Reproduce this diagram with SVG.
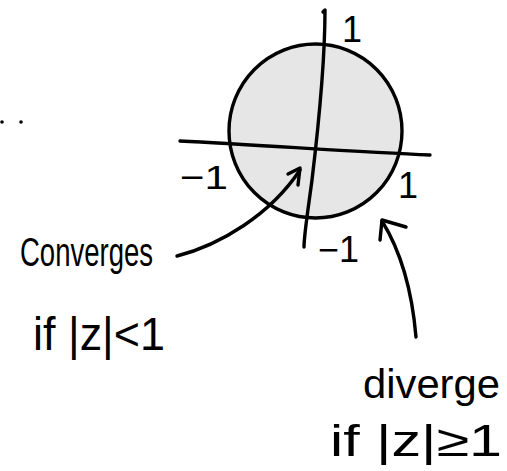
<svg xmlns="http://www.w3.org/2000/svg" width="507" height="471" viewBox="0 0 507 471">
<style>
.ink{fill:none;stroke:#000;stroke-width:3.4;stroke-linecap:round;stroke-linejoin:round}
.t{font-family:"Liberation Sans","DejaVu Sans",sans-serif;fill:#000}
</style>
<rect width="507" height="471" fill="#fff"/>
<g id="dots">
<circle cx="2" cy="122" r="1.8" fill="#000"/>
<circle cx="21" cy="122" r="1.8" fill="#000"/>
</g>
<g id="disk">
<ellipse cx="315.5" cy="131" rx="86.5" ry="87" fill="#e6e6e6" stroke="#000" stroke-width="3.4"/>
</g>
<g id="axes">
<path class="ink" d="M180,141 C260,145 360,152 430,155"/>
<path class="ink" d="M323,12 L325,10 C325,60 318,130 312,180 C308,210 304,235 304,247"/>
</g>
<g id="labels">
<text class="t" x="342" y="42" font-size="36">1</text>
<text class="t" x="180" y="189" font-size="34" textLength="48" lengthAdjust="spacingAndGlyphs">−1</text>
<text class="t" x="398" y="198" font-size="36">1</text>
<text class="t" x="318" y="262" font-size="36">−1</text>
</g>
<g id="connectors">
<path class="ink" d="M177,256 C220,245 270,215 300,170"/>
<path class="ink" d="M288,174 L300,168 L298,185"/>
<path class="ink" d="M416,337 C412,290 400,250 382,221"/>
<path class="ink" d="M380,240 L382,220 L406,227"/>
</g>
<g id="converges">
<text class="t" x="20" y="266" font-size="40" textLength="133" lengthAdjust="spacingAndGlyphs">Converges</text>
<text class="t" x="33" y="350" font-size="46" textLength="132" lengthAdjust="spacingAndGlyphs">if |z|&lt;1</text>
</g>
<g id="diverge">
<text class="t" x="363" y="398" font-size="40" textLength="137" lengthAdjust="spacingAndGlyphs">diverge</text>
<text class="t" x="330" y="456" font-size="44" textLength="172" lengthAdjust="spacingAndGlyphs">if |z|≥1</text>
</g>
</svg>
